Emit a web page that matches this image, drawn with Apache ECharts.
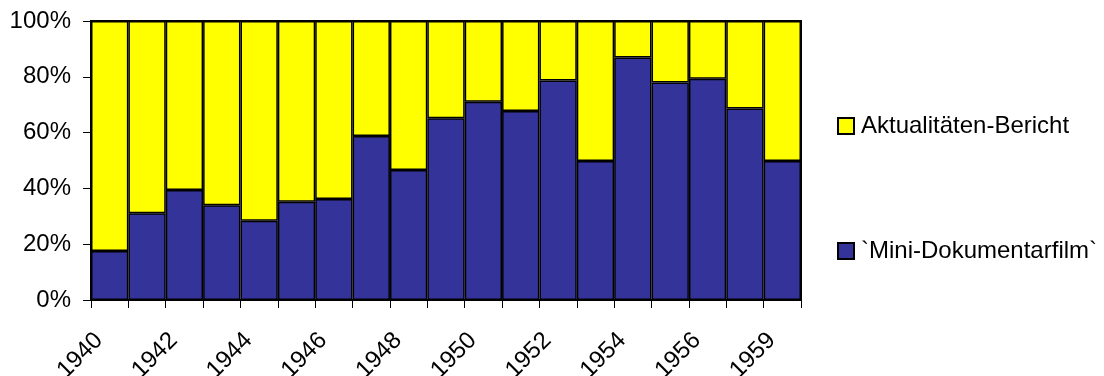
<!DOCTYPE html>
<html>
<head>
<meta charset="utf-8">
<script src="https://cdn.jsdelivr.net/npm/echarts@6/dist/echarts.min.js"></script>
<style>html,body{margin:0;padding:0;background:#fff}#c{width:1104px;height:376px}</style>
</head>
<body>
<div id="c"></div>
<script>
const years = ['1940','1941','1942','1943','1944','1945','1946','1947','1948','1949','1950','1951','1952','1953','1954','1955','1956','1957','1959'];
const miniDoku = [17.6, 31.1, 39.4, 34.0, 28.4, 35.2, 36.2, 58.8, 46.6, 65.1, 71.1, 67.7, 78.7, 49.8, 86.9, 78.0, 79.3, 68.6, 49.8];
const aktualitaeten = [82.4, 68.9, 60.6, 66.0, 71.6, 64.8, 63.8, 41.2, 53.4, 34.9, 28.9, 32.3, 21.3, 50.2, 13.1, 22.0, 20.7, 31.4, 50.2];
const yTicks = [0, 20, 40, 60, 80, 100];

const FONT = 'Liberation Sans, Arial, sans-serif';
const chart = echarts.init(document.getElementById('c'), null, {renderer: 'canvas'});
chart.setOption({
  animation: false,
  backgroundColor: '#fff',
  textStyle: {fontFamily: FONT, color: '#000'},
  grid: {left: 91, top: 21, right: 303, bottom: 76, containLabel: false, outerBoundsMode: 'none',
         show: true, borderColor: '#000', borderWidth: 2, backgroundColor: 'transparent'},
  legend: {
    orient: 'vertical', left: 832, top: 109,
    itemWidth: 16, itemHeight: 16, itemGap: 101,
    icon: 'rect',
    itemStyle: {borderColor: '#000', borderWidth: 2},
    textStyle: {fontFamily: FONT, fontSize: 24, color: '#000', padding: [0, 0, 0, 2]},
    data: ['Aktualitäten-Bericht', '`Mini-Dokumentarfilm`']
  },
  xAxis: {
    type: 'category', data: years, boundaryGap: true,
    axisLine: {lineStyle: {color: '#000', width: 2}},
    axisTick: {show: true, length: 8, alignWithLabel: false, interval: 0, lineStyle: {color: '#000', width: 1}},
    axisLabel: {interval: 1, rotate: 45, margin: 26, padding: [0, 15, 0, 0], fontSize: 24, color: '#000', fontFamily: FONT}
  },
  yAxis: {
    type: 'value', min: yTicks[0], max: yTicks[yTicks.length - 1], interval: 20,
    axisLine: {show: true, lineStyle: {color: '#000', width: 2}},
    axisTick: {show: true, length: 8, lineStyle: {color: '#000', width: 1}},
    splitLine: {show: false},
    axisLabel: {margin: 20, fontSize: 24, color: '#000', fontFamily: FONT, formatter: v => v + '%'}
  },
  series: [
    {name: '`Mini-Dokumentarfilm`', type: 'bar', stack: 'a', data: miniDoku, barCategoryGap: 0,
     itemStyle: {color: '#333399', borderColor: '#000', borderWidth: 1.5}},
    {name: 'Aktualitäten-Bericht', type: 'bar', stack: 'a', data: aktualitaeten, barCategoryGap: 0,
     itemStyle: {color: '#FFFF00', borderColor: '#000', borderWidth: 1.5}}
  ]
});
</script>
</body>
</html>
